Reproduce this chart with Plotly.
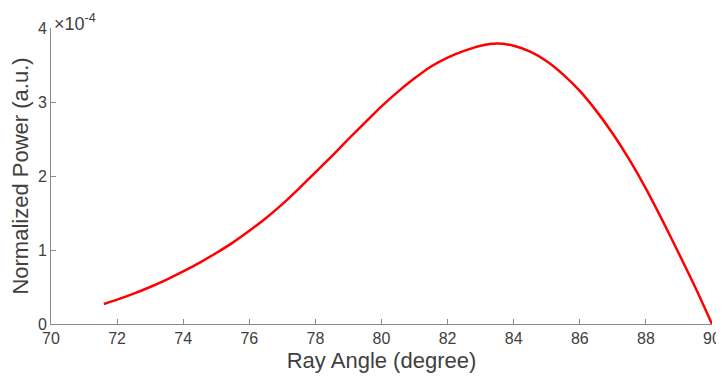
import plotly.graph_objects as go

angle = [71.6, 72, 72.5, 73, 73.5, 74, 74.5, 75, 75.5, 76, 76.5, 77, 77.5, 78, 78.5,
         79, 79.5, 80, 80.5, 81, 81.5, 82, 82.5, 83, 83.5, 84, 84.5, 85, 85.5, 86,
         86.5, 87, 87.5, 88, 88.5, 89, 89.5, 90]
power_e4 = [0.27, 0.33, 0.41, 0.50, 0.60, 0.71, 0.83, 0.96, 1.10, 1.26, 1.43, 1.62,
            1.83, 2.05, 2.27, 2.50, 2.72, 2.94, 3.14, 3.32, 3.48, 3.60, 3.69, 3.76,
            3.79, 3.76, 3.68, 3.55, 3.37, 3.15, 2.88, 2.57, 2.22, 1.83, 1.40, 0.95,
            0.49, 0.0]
power = [v * 1e-4 for v in power_e4]

x_ticks = [70, 72, 74, 76, 78, 80, 82, 84, 86, 88, 90]
y_tick_vals = [0, 1e-4, 2e-4, 3e-4, 4e-4]
y_tick_text = ["0", "1", "2", "3", "4"]

FONT = "Liberation Sans, Arial, sans-serif"
TXT = "#404040"
AX = "#8a8a8a"

fig = go.Figure()
fig.add_trace(go.Scatter(x=angle, y=power, mode="lines",
                         line=dict(color="#ff0000", width=2.5, shape="spline", smoothing=0.6),
                         showlegend=False, hoverinfo="skip", cliponaxis=False))

# the page body adds an 8px margin, so the figure is 8px smaller
fig.update_layout(
    width=716, height=379,
    margin=dict(l=43, r=12, t=20, b=63),
    paper_bgcolor="white", plot_bgcolor="white",
    font=dict(family=FONT, color=TXT, size=16),
    xaxis=dict(range=[70, 90], tickvals=x_ticks, ticks="inside", ticklen=5,
               tickcolor=AX, showline=True, linecolor=AX, linewidth=1, automargin=False,
               showgrid=False, zeroline=False, tickfont=dict(size=16, color=TXT),
               title=dict(text="Ray Angle (degree)", font=dict(size=22, color=TXT), standoff=6)),
    yaxis=dict(range=[0, 4e-4], tickvals=y_tick_vals, ticktext=y_tick_text,
               ticks="inside", ticklen=5, tickcolor=AX, showline=True, linecolor=AX,
               linewidth=1, showgrid=False, zeroline=False, automargin=False,
               tickfont=dict(size=16, color=TXT),
               title=dict(text="Normalized Power (a.u.)", font=dict(size=22, color=TXT), standoff=4)),
    annotations=[dict(text="×10<sup>-4</sup>", xref="paper", yref="paper", x=0, y=1,
                      xanchor="left", yanchor="bottom", showarrow=False,
                      font=dict(size=18, color=TXT), xshift=1, yshift=-8)],
)

fig.write_html("out.html")
